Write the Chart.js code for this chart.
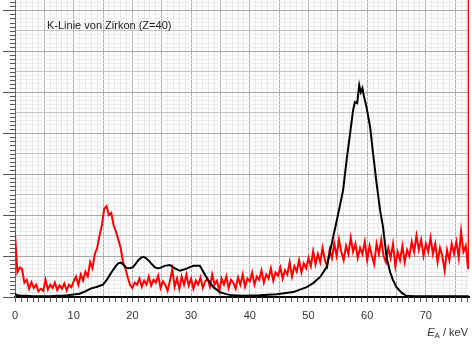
<!DOCTYPE html>
<html>
<head>
<meta charset="utf-8">
<script src="https://cdn.jsdelivr.net/npm/chart.js@4.4.1/dist/chart.umd.min.js"></script>
<style>
  body { margin: 0; background: #fff; }
  canvas { display: block; }
</style>
</head>
<body>
<canvas id="spektrum" width="472" height="346"></canvas>
<script>
// ------------------------------------------------------- //
// Data: K-Linie von Zirkon
// ------------------------------------------------------ //

// black curve (E in keV, counts in arbitrary units)
var blackE = [0, 0.5, 1, 2, 3, 4, 5, 6, 7, 8, 9, 10, 11, 12, 13, 14, 15,
    15.6, 16.2, 16.7, 17.2, 17.6, 18.0, 18.4, 18.9, 19.3, 19.7,
    20.1, 20.5, 21.0, 21.5, 21.9, 22.3, 22.7, 23.2, 23.8, 24.3,
    24.7, 25.5, 26.4, 27.25, 28.1, 29.0, 29.8, 30.4, 31.0, 31.5,
    32.1, 32.9, 33.8, 34.9, 36.0, 37, 39, 41.7, 44.6, 47.4,
    49.7, 50.8, 52.0, 53.1, 54.2, 55.1, 55.9, 56.5, 57.1, 57.6,
    57.9, 58.3, 58.65, 58.9, 59.2, 59.4, 59.9, 60.5, 61.0, 61.6,
    62.2, 62.7, 63.3, 63.9, 64.4, 65.0, 65.9, 66.7, 68, 72,
    77.3];
var blackN = [0.07, 0.04, 0.03, 0.03, 0.02, 0.02, 0.02, 0.02, 0.03, 0.03, 0.04, 0.06, 0.08, 0.14, 0.21, 0.25, 0.3,
    0.41, 0.55, 0.66, 0.76, 0.82, 0.84, 0.8, 0.72, 0.7, 0.71,
    0.73, 0.8, 0.9, 0.96, 0.98, 0.95, 0.9, 0.82, 0.73, 0.7,
    0.71, 0.76, 0.78, 0.7, 0.64, 0.68, 0.73, 0.76, 0.76, 0.76,
    0.61, 0.41, 0.24, 0.12, 0.07, 0.04, 0.03, 0.04, 0.07, 0.12,
    0.24, 0.34, 0.49, 0.73, 1.46, 2.05, 2.61, 3.34, 4.0, 4.56,
    4.76, 4.73, 5.17, 5.0, 5.1, 4.93, 4.63, 4.15, 3.51, 2.78,
    2.12, 1.71, 0.98, 0.61, 0.41, 0.24, 0.1, 0.03, 0.02, 0.02,
    0.02];

// red curve, one value per 0.4 keV channel starting at 0 keV
var redStep = 0.4;
var redN = [
    1.55, 0.6, 0.72, 0.68, 0.35, 0.42, 0.2, 0.36, 0.22, 0.3,
    0.14, 0.2, 0.15, 0.42, 0.18, 0.3, 0.22, 0.35, 0.17, 0.28,
    0.2, 0.33, 0.16, 0.3, 0.24, 0.38, 0.5, 0.3, 0.55, 0.4,
    0.62, 0.5, 0.85, 0.7, 1.05, 1.2, 1.5, 1.75, 2.15, 2.22,
    2.0, 2.05, 1.75, 1.6, 1.4, 1.2, 0.85, 0.7, 0.48, 0.3,
    0.22, 0.35, 0.3, 0.45, 0.25, 0.4, 0.3, 0.5, 0.28, 0.42,
    0.35, 0.52, 0.22, 0.38, 0.3, 0.15, 0.4, 0.68, 0.25, 0.45,
    0.2, 0.5, 0.3, 0.55, 0.28, 0.45, 0.2, 0.4, 0.3, 0.48,
    0.22, 0.38, 0.45, 0.25, 0.55, 0.3, 0.4, 0.15, 0.45, 0.3,
    0.5, 0.22, 0.42, 0.35, 0.2, 0.48, 0.3, 0.55, 0.25, 0.45,
    0.38, 0.6, 0.3, 0.5, 0.42, 0.65, 0.35, 0.55, 0.45, 0.7,
    0.4, 0.6, 0.52, 0.72, 0.45, 0.65, 0.55, 0.85, 0.5, 0.75,
    0.62, 0.9, 0.6, 0.82, 0.7, 0.95, 0.75, 1.12, 0.8, 1.05,
    0.85, 1.2, 0.9, 0.75, 1.15, 0.95, 1.3, 1.0, 1.4, 1.1,
    0.9, 1.25, 1.05, 1.45, 1.1, 1.3, 0.95, 1.2, 1.05, 1.35,
    0.9, 1.25, 1.0, 0.8, 1.3, 1.05, 1.4, 1.0, 0.85, 1.2,
    0.95, 1.3, 0.75, 1.1, 0.9, 1.25, 0.85, 1.15, 1.0, 1.35,
    1.1, 1.5, 1.15, 1.4, 1.0, 1.3, 1.1, 1.45, 1.05, 1.3,
    0.85, 1.2, 1.0, 0.65, 1.15, 0.9, 1.3, 1.05, 1.35, 0.95,
    1.6, 1.1, 1.25, 0.7];
// last point of the red trace shoots off the top at the right edge
var redEndE = 77.3;
var redEndN = 10;

// axis ranges / tick labels
var xMin = 0, xMax = 77.35;
var yMin = 0, yMax = 7.25;
var xLabels = [0, 10, 20, 30, 40, 50, 60, 70];
var titleText = 'K-Linie von Zirkon (Z=40)';

// ------------------------------------------------------- //
// Build datasets
// ------------------------------------------------------ //
var blackPts = blackE.map(function (e, i) { return {x: e, y: blackN[i]}; });
var redPts = redN.map(function (n, i) { return {x: Math.round(i * redStep * 10) / 10, y: n}; });
redPts.push({x: redEndE, y: redEndN});

// ------------------------------------------------------- //
// Tick marks with different lengths + text labels
// ------------------------------------------------------ //
var extras = {
    id: 'extras',
    afterDraw: function (chart) {
        var ctx = chart.ctx, x = chart.scales.x, y = chart.scales.y, area = chart.chartArea;
        ctx.save();
        ctx.strokeStyle = '#555';
        ctx.lineWidth = 1;
        ctx.beginPath();
        x.ticks.forEach(function (t) {
            var px = Math.round(x.getPixelForValue(t.value)) + 0.5;
            ctx.moveTo(px, area.bottom);
            ctx.lineTo(px, area.bottom + 5);
        });
        y.ticks.forEach(function (t) {
            var k = Math.round(t.value * 10);
            var len = k % 10 === 0 ? 12 : 5;
            var py = Math.round(y.getPixelForValue(t.value)) + 0.5;
            ctx.moveTo(area.left - len, py);
            ctx.lineTo(area.left, py);
        });
        ctx.stroke();

        // title inside the plot
        ctx.fillStyle = '#222';
        ctx.font = '11px "Liberation Sans", Arial, sans-serif';
        ctx.textBaseline = 'middle';
        ctx.fillText(titleText, area.left + 32, 26);

        // axis label  E_A / keV, right aligned under the axis end
        var by = 333;
        var fE = 'italic 11px "Liberation Sans", Arial, sans-serif';
        var fA = '8px "Liberation Sans", Arial, sans-serif';
        var fU = '11px "Liberation Sans", Arial, sans-serif';
        ctx.font = fE; var wE = ctx.measureText('E').width;
        ctx.font = fA; var wA = ctx.measureText('A').width;
        ctx.font = fU; var wU = ctx.measureText(' / keV').width;
        var bx = 468 - (wE + wA + wU);
        ctx.fillStyle = '#333';
        ctx.font = fE; ctx.fillText('E', bx, by);
        ctx.font = fA; ctx.fillText('A', bx + wE, by + 3);
        ctx.font = fU; ctx.fillText(' / keV', bx + wE + wA, by);
        ctx.restore();
    }
};

function xGridColor(c) {
    var v = Math.round(c.tick.value);
    return v % 5 === 0 ? '#b0b0b0' : '#e6e6e6';
}
function yGridColor(c) {
    var k = Math.round(c.tick.value * 10);
    if (k % 10 === 0) return '#a8a8a8';
    if (k % 5 === 0) return '#c4c4c4';
    return '#ececec';
}

var ctxS = document.getElementById('spektrum').getContext('2d');
var spektrum = new Chart(ctxS, {
    type: 'line',
    data: {
        datasets: [{
            label: 'schwarz',
            data: blackPts,
            borderColor: '#000',
            borderWidth: 2,
            pointRadius: 0,
            tension: 0,
            order: 0
        }, {
            label: 'rot',
            data: redPts,
            borderColor: '#ff0000',
            borderWidth: 2,
            pointRadius: 0,
            tension: 0,
            order: 1
        }]
    },
    options: {
        responsive: false,
        animation: false,
        devicePixelRatio: 1,
        layout: { padding: { left: 0, right: 3, top: 0, bottom: 0 } },
        plugins: { legend: { display: false }, tooltip: { enabled: false } },
        scales: {
            x: {
                type: 'linear',
                min: xMin,
                max: xMax,
                afterFit: function (scale) {
                    scale.height = 49;
                    scale.paddingLeft = 0;
                    scale.paddingRight = 0;
                },
                border: { color: '#000', width: 2 },
                grid: { color: xGridColor, drawTicks: false },
                ticks: {
                    stepSize: 1,
                    autoSkip: false,
                    includeBounds: false,
                    maxRotation: 0,
                    padding: 12,
                    color: '#333',
                    font: { family: '"Liberation Sans", Arial, sans-serif', size: 11 },
                    callback: function (v) { return xLabels.indexOf(v) >= 0 ? String(v) : ''; }
                }
            },
            y: {
                type: 'linear',
                min: yMin,
                max: yMax,
                afterFit: function (scale) {
                    scale.width = 15;
                    scale.paddingTop = 0;
                    scale.paddingBottom = 0;
                },
                border: { color: '#666', width: 1 },
                grid: { color: yGridColor, drawTicks: false },
                ticks: { stepSize: 0.1, autoSkip: false, includeBounds: false, display: false }
            }
        }
    },
    plugins: [extras]
});
</script>
</body>
</html>
